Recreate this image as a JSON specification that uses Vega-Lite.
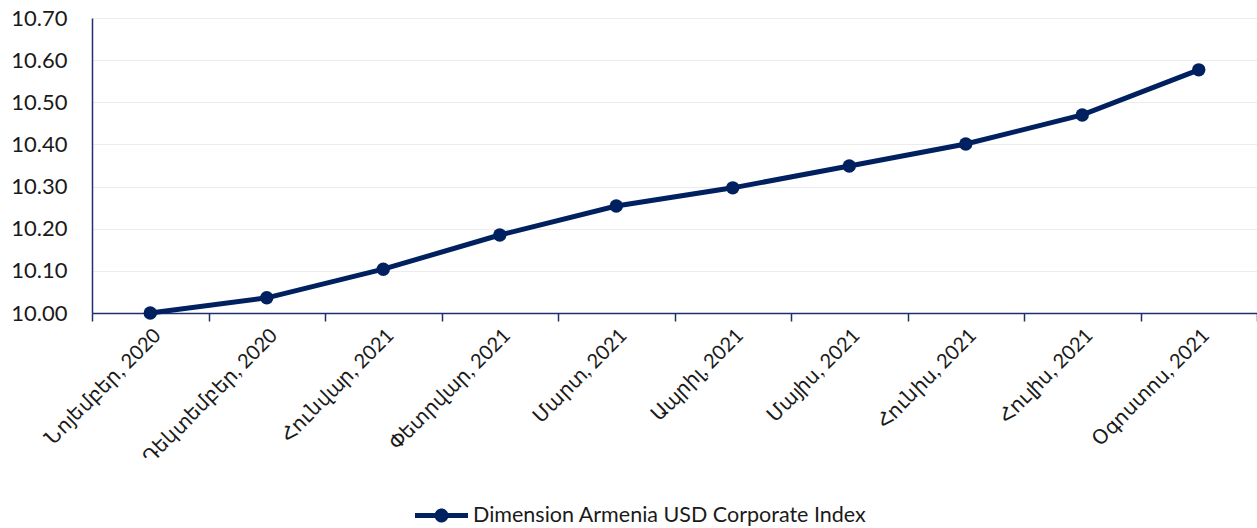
{
  "$schema": "https://vega.github.io/schema/vega-lite/v6.json",
  "width": 1165,
  "height": 295,
  "autosize": {"type": "none"},
  "padding": {"left": 92, "top": 18, "right": 0, "bottom": 215},
  "background": "white",
  "config": {
    "view": {"stroke": null},
    "font": "Lato",
    "axis": {"labelFont": "Lato", "labelColor": "#1a1a1a"}
  },
  "data": {
    "values": [
      {"month": "Նոյեմբեր, 2020", "value": 10.000, "series": "Dimension Armenia USD Corporate Index"},
      {"month": "Դեկտեմբեր, 2020", "value": 10.036, "series": "Dimension Armenia USD Corporate Index"},
      {"month": "Հունվար, 2021", "value": 10.104, "series": "Dimension Armenia USD Corporate Index"},
      {"month": "Փետրվար, 2021", "value": 10.185, "series": "Dimension Armenia USD Corporate Index"},
      {"month": "Մարտ, 2021", "value": 10.254, "series": "Dimension Armenia USD Corporate Index"},
      {"month": "Ապրիլ, 2021", "value": 10.297, "series": "Dimension Armenia USD Corporate Index"},
      {"month": "Մայիս, 2021", "value": 10.349, "series": "Dimension Armenia USD Corporate Index"},
      {"month": "Հունիս, 2021", "value": 10.401, "series": "Dimension Armenia USD Corporate Index"},
      {"month": "Հուլիս, 2021", "value": 10.470, "series": "Dimension Armenia USD Corporate Index"},
      {"month": "Օգոստոս, 2021", "value": 10.577, "series": "Dimension Armenia USD Corporate Index"}
    ]
  },
  "encoding": {
    "x": {
      "field": "month",
      "type": "ordinal",
      "sort": null,
      "scale": {"type": "band", "paddingInner": 0, "paddingOuter": 0},
      "axis": {
        "title": null,
        "labelAngle": -45,
        "labelAlign": "right",
        "labelBaseline": "top",
        "labelFontSize": 20,
        "labelPadding": 4,
        "labelLimit": 400,
        "tickBand": "extent",
        "tickColor": "#1f2f6b",
        "tickSize": 8,
        "tickWidth": 1.5,
        "domainColor": "#1f2f6b",
        "domainWidth": 1.5,
        "grid": false
      }
    },
    "y": {
      "field": "value",
      "type": "quantitative",
      "scale": {"domain": [10, 10.7], "nice": false, "zero": false},
      "axis": {
        "title": null,
        "values": [10, 10.1, 10.2, 10.3, 10.4, 10.5, 10.6, 10.7],
        "format": ".2f",
        "labelFontSize": 22,
        "labelPadding": 25,
        "ticks": false,
        "domainColor": "#1f2f6b",
        "domainWidth": 1.5,
        "grid": true,
        "gridColor": "#ececec",
        "gridWidth": 1.2
      }
    },
    "color": {
      "field": "series",
      "type": "nominal",
      "scale": {"range": ["#002060"]},
      "legend": {
        "title": null,
        "orient": "none",
        "legendX": 323,
        "legendY": 471,
        "symbolType": "M-1,-0.094L-0.247,-0.094A0.264,0.264 0 0,1 0.247,-0.094L1,-0.094L1,0.094L0.247,0.094A0.264,0.264 0 0,1 -0.247,0.094L-1,0.094Z",
        "symbolSize": 2809,
        "symbolFillColor": "#002060",
        "symbolStrokeWidth": 0,
        "labelFontSize": 21.5,
        "labelColor": "#1a1a1a",
        "labelFont": "Lato",
        "labelOffset": 5,
        "labelLimit": 600,
        "encode": {
          "symbols": {
            "update": {
              "shape": {"value": "M-1,-0.094L-0.247,-0.094A0.264,0.264 0 0,1 0.247,-0.094L1,-0.094L1,0.094L0.247,0.094A0.264,0.264 0 0,1 -0.247,0.094L-1,0.094Z"},
              "size": {"value": 2809},
              "fill": {"value": "#002060"},
              "stroke": {"value": "#002060"},
              "strokeWidth": {"value": 0},
              "opacity": {"value": 1}
            }
          }
        }
      }
    }
  },
  "layer": [
    {"mark": {"type": "line", "strokeWidth": 5}},
    {"mark": {"type": "point", "filled": true, "size": 180, "opacity": 1, "shape": "circle"}}
  ]
}
